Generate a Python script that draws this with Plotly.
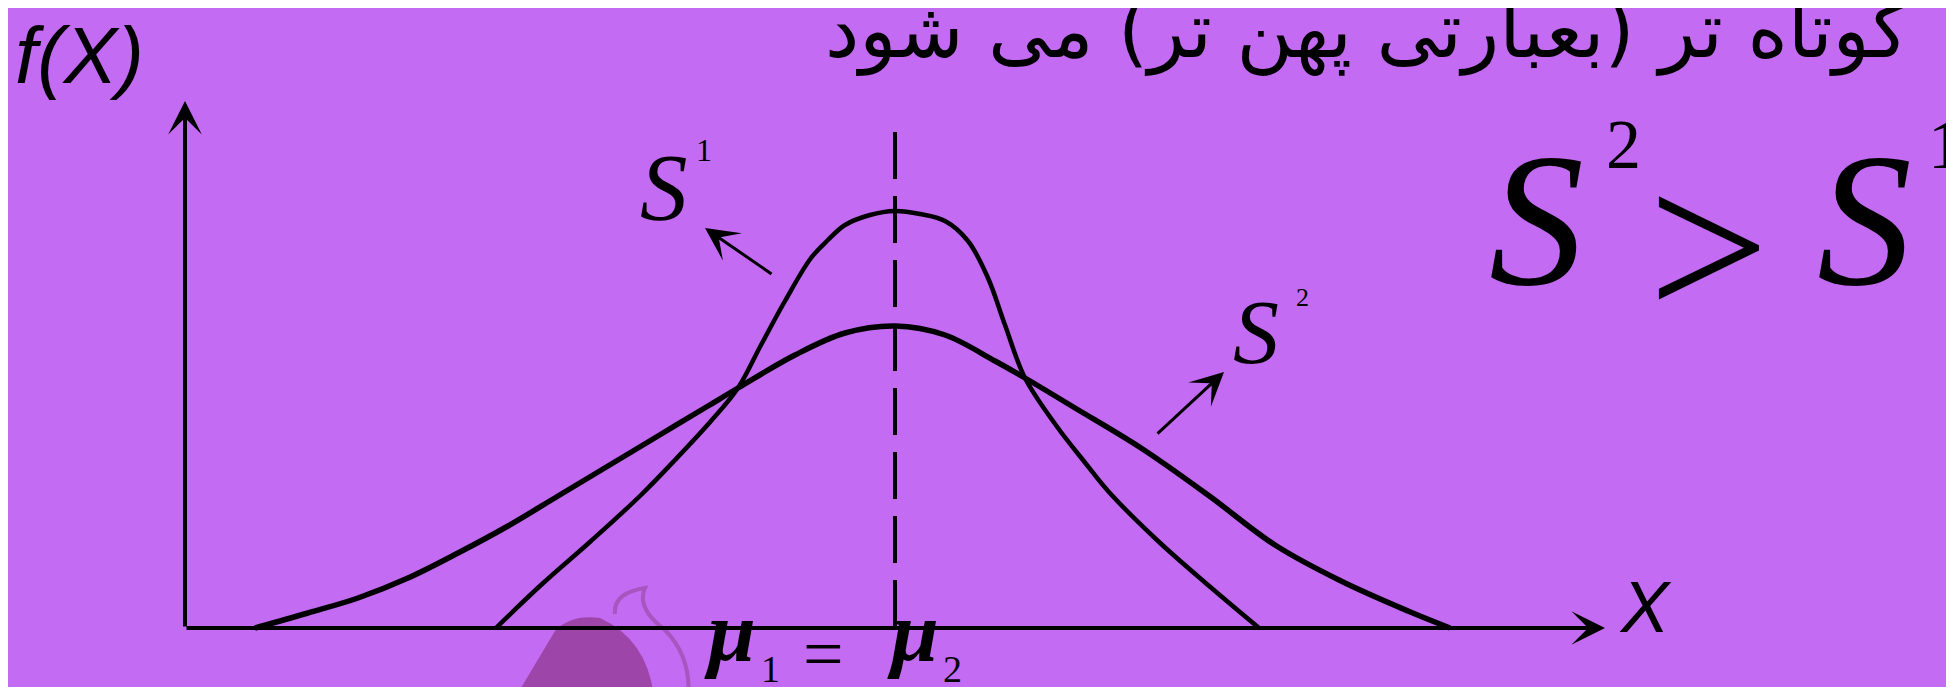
import plotly.graph_objects as go

W, H = 1954, 687
BG = "#c36bf2"

# منحنی پهن تر (S2)
x_wide = [-6.40, -5.87, -5.37, -4.87, -4.37, -3.87, -3.37, -2.87, -2.37, -1.87,
          -1.57, -1.00, -0.50, 0.00, 0.50, 1.00, 1.30, 1.80, 2.46, 3.13,
          3.80, 4.46, 5.13, 5.55]
y_wide = [0.00, 0.15, 0.30, 0.50, 0.75, 1.02, 1.32, 1.62, 1.92, 2.22,
          2.40, 2.73, 2.95, 3.02, 2.93, 2.67, 2.50, 2.20, 1.80, 1.33,
          0.83, 0.47, 0.17, 0.00]

# منحنی کوتاه تر (S1)
x_narrow = [-3.99, -3.54, -3.04, -2.54, -2.20, -1.84, -1.57, -1.34, -1.10, -0.84,
            -0.67, -0.50, -0.25, 0.00, 0.25, 0.50, 0.73, 0.93, 1.10, 1.30,
            1.63, 1.88, 2.13, 2.63, 3.13, 3.64]
y_narrow = [0.00, 0.43, 0.87, 1.33, 1.68, 2.07, 2.40, 2.83, 3.27, 3.70,
            3.88, 4.03, 4.13, 4.17, 4.14, 4.07, 3.87, 3.50, 3.03, 2.50,
            2.00, 1.68, 1.37, 0.87, 0.43, 0.00]

mu = 0.0
dash_top = 4.96
x_start, x_end = -7.10, 7.10
y_end = 5.27

title_text = "کوتاه تر (بعبارتی پهن تر) می شود"

fig = go.Figure()
fig.add_trace(go.Scatter(x=[mu, mu], y=[dash_top, 0], mode="lines",
                         line=dict(color="black", width=4, dash="47px,17px")))
fig.add_trace(go.Scatter(x=x_wide, y=y_wide, mode="lines",
                         line=dict(color="black", width=5.5, shape="spline", smoothing=1.0)))
fig.add_trace(go.Scatter(x=x_narrow, y=y_narrow, mode="lines",
                         line=dict(color="black", width=4.5, shape="spline", smoothing=1.0)))


def px(x):
    return x / W


def py(y):
    return 1 - y / H


def arrow(x0, y0, x1, y1, width, size):
    fig.add_annotation(x=x1, y=y1, ax=x0, ay=y0, xref="x", yref="y", axref="x", ayref="y",
                       text="", showarrow=True, arrowhead=3, arrowwidth=width,
                       arrowsize=size, arrowcolor="black", standoff=0, startstandoff=0)


def label(text, x, base, size, family="Liberation Serif", style="italic",
          anchor="center", weight="normal"):
    # y داده شده تقریبا خط پایه است
    fig.add_annotation(x=px(x), y=py(base - 0.34 * size), xref="paper", yref="paper",
                       text=text, showarrow=False, xanchor=anchor, yanchor="middle",
                       font=dict(family=family, size=size, color="black", style=style,
                                 weight=weight))


# واترمارک کم رنگ
fig.add_shape(type="path", xref="paper", yref="paper", layer="below",
              path="M %f %f L %f %f Q %f %f %f %f Q %f %f %f %f L %f %f Z" % (
                  px(507), py(690), px(547), py(623), px(563), py(606), px(592), py(610),
                  px(640), py(632), px(646), py(690), px(646), py(690)),
              fillcolor="#9d45a8", line=dict(width=0))
fig.add_shape(type="path", xref="paper", yref="paper", layer="below",
              path="M %f %f Q %f %f %f %f Q %f %f %f %f Q %f %f %f %f" % (
                  px(607), py(606), px(605), py(585), px(637), py(580),
                  px(628), py(600), px(657), py(622), px(684), py(650), px(680), py(690)),
              fillcolor="rgba(0,0,0,0)", line=dict(color="#a855c0", width=4))

# محورها
arrow(x_start, 0, x_start, y_end, 4, 1.4)
arrow(x_start, 0, x_end, 0, 4, 1.4)
# فلش های S1 و S2
arrow(-1.22, 3.53, -1.90, 4.00, 3, 1.85)
arrow(2.61, 1.93, 3.29, 2.56, 3, 1.85)

narrow = "Liberation Sans Narrow, Liberation Sans"
label("f(X)", 71, 75, 80, family=narrow)
label("X", 1637, 623, 72, family=narrow)

label(title_text, 1903, 49, 77, family="DejaVu Sans", style="normal", anchor="right")

label("S", 656, 212, 95)
label("1", 696, 153, 32, style="normal")
label("S", 1248, 355, 92)
label("2", 1294, 298, 26, style="normal")

label("S", 1528, 277, 190)
label("2", 1615, 160, 70, style="normal")
label(">", 1700, 312, 215, style="normal")
label("S", 1856, 277, 190)
label("1", 1937, 160, 70, style="normal")

label("μ", 722, 652, 86, weight="bold")
label("1", 762, 674, 38, style="normal")
label("=", 815, 670, 72, style="normal")
label("μ", 905, 652, 86, weight="bold")
label("2", 944, 674, 38, style="normal")

fig.update_layout(
    width=W, height=H, showlegend=False,
    margin=dict(l=0, r=0, t=0, b=0),
    paper_bgcolor=BG, plot_bgcolor=BG,
    xaxis=dict(range=[-8.87, 10.67], visible=False, fixedrange=True),
    yaxis=dict(range=[-0.67, 6.20], visible=False, fixedrange=True),
)

fig.write_html("out.html")
